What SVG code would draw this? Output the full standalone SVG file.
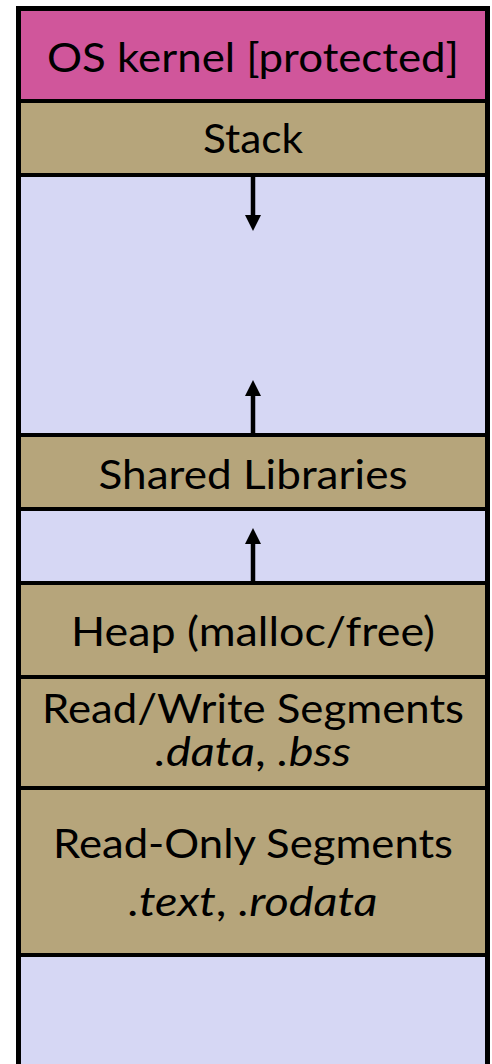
<svg xmlns="http://www.w3.org/2000/svg" width="492" height="1064" viewBox="0 0 492 1064">
  <defs>
    <style>
      .kernel { fill: #D0569B; }
      .seg { fill: #B6A57B; }
      .free { fill: #D6D7F4; }
      .div { stroke: #000; stroke-width: 4; fill: none; }
      .frame { stroke: #000; stroke-width: 5; fill: none; }
      .lbl { font-family: Lato, "Open Sans", "Liberation Sans", sans-serif; font-size: 41px; fill: #000; text-anchor: middle; }
      .it { font-style: italic; }
      .stem { stroke: #000; stroke-width: 4.5; fill: none; }
      .head { fill: #000; }
    </style>
  </defs>

  <!-- address-space regions, top (high addresses) to bottom -->
  <g id="kernel">
    <rect class="kernel" x="18" y="8" width="469" height="93"/>
    <text class="lbl" x="253" y="72" textLength="412" lengthAdjust="spacingAndGlyphs">OS kernel [protected]</text>
  </g>
  <g id="stack">
    <rect class="seg" x="18" y="101" width="469" height="74"/>
    <text class="lbl" x="253" y="153" textLength="100" lengthAdjust="spacingAndGlyphs">Stack</text>
  </g>
  <g id="gap-stack">
    <rect class="free" x="18" y="175" width="469" height="260"/>
  </g>
  <g id="shared-libs">
    <rect class="seg" x="18" y="435" width="469" height="74"/>
    <text class="lbl" x="253" y="489" textLength="309" lengthAdjust="spacingAndGlyphs">Shared Libraries</text>
  </g>
  <g id="gap-heap">
    <rect class="free" x="18" y="509" width="469" height="74"/>
  </g>
  <g id="heap">
    <rect class="seg" x="18" y="583" width="469" height="94"/>
    <text class="lbl" x="253" y="646" textLength="364" lengthAdjust="spacingAndGlyphs">Heap (malloc/free)</text>
  </g>
  <g id="rw-segments">
    <rect class="seg" x="18" y="677" width="469" height="111"/>
    <text class="lbl" x="253" y="723" textLength="422" lengthAdjust="spacingAndGlyphs">Read/Write Segments</text>
    <text class="lbl" x="253" y="766" textLength="196" lengthAdjust="spacingAndGlyphs"><tspan class="it">.data</tspan>, <tspan class="it">.bss</tspan></text>
  </g>
  <g id="ro-segments">
    <rect class="seg" x="18" y="788" width="469" height="167"/>
    <text class="lbl" x="253" y="858" textLength="400" lengthAdjust="spacingAndGlyphs">Read-Only Segments</text>
    <text class="lbl" x="253" y="916" textLength="249" lengthAdjust="spacingAndGlyphs"><tspan class="it">.text</tspan>, <tspan class="it">.rodata</tspan></text>
  </g>
  <g id="gap-bottom">
    <rect class="free" x="18" y="955" width="469" height="120"/>
  </g>

  <!-- region boundaries -->
  <g id="dividers">
    <line class="div" x1="18" y1="101" x2="487" y2="101"/>
    <line class="div" x1="18" y1="175" x2="487" y2="175"/>
    <line class="div" x1="18" y1="435" x2="487" y2="435"/>
    <line class="div" x1="18" y1="509" x2="487" y2="509"/>
    <line class="div" x1="18" y1="583" x2="487" y2="583"/>
    <line class="div" x1="18" y1="677" x2="487" y2="677"/>
    <line class="div" x1="18" y1="788" x2="487" y2="788"/>
    <line class="div" x1="18" y1="955" x2="487" y2="955"/>
  </g>

  <!-- growth-direction arrows -->
  <g id="connectors">
    <line class="stem" x1="253" y1="176" x2="253" y2="216"/>
    <polygon class="head" points="245,215 261,215 253,231"/>
    <line class="stem" x1="253" y1="434" x2="253" y2="395"/>
    <polygon class="head" points="245,396 261,396 253,380"/>
    <line class="stem" x1="253" y1="582" x2="253" y2="543"/>
    <polygon class="head" points="245,544 261,544 253,528"/>
  </g>

  <!-- outer frame, open at the bottom -->
  <path class="frame" d="M18.5,1070 V8.5 H487.5 V1070"/>
</svg>
